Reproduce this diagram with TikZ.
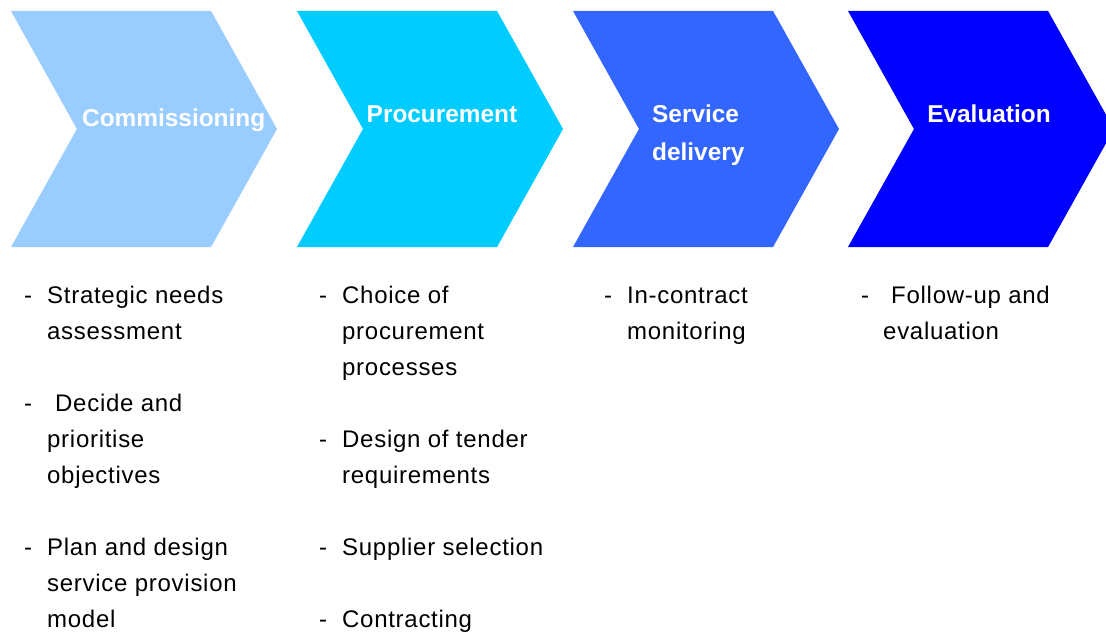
\documentclass[tikz,border=0pt]{standalone}
\usepackage{fontspec}
\setmainfont{Liberation Sans}
\usetikzlibrary{positioning,shapes.symbols}
\definecolor{stageone}{HTML}{99CCFF}
\definecolor{stagetwo}{HTML}{00CCFF}
\definecolor{stagethree}{HTML}{3366FF}
\definecolor{stagefour}{HTML}{0000FF}
\tikzset{
  stage/.style={signal, signal from=west, signal to=east,
    signal pointer angle=121.6, minimum width=266pt, minimum height=236pt,
    inner sep=0pt, outer sep=0pt, draw=none},
  stagetext/.style={text=white, inner sep=0pt, align=left,
    font=\fontsize{24.4}{38}\selectfont\bfseries},
  point/.style={inner sep=0pt, align=left, anchor=base west,
    font=\fontsize{24}{36}\selectfont\addfontfeatures{LetterSpace=3}},
  dashmark/.style={inner sep=0pt, anchor=base west,
    font=\fontsize{24}{36}\selectfont},
}
\begin{document}
\begin{tikzpicture}[x=1pt,y=-1pt]
    \clip (0,0) rectangle (1106,634);

    % the four stages
    \node[stage, fill=stageone] (com) at (144,129) {};
    \node[stage, fill=stagetwo] (pro) at (430,129) {};
    \node[stage, fill=stagethree] (ser) at (706,129) {};
    \node[stage, fill=stagefour] (eva) at (981,129) {};

    \node[stagetext, anchor=base west] (comtxt) at (82,126) {Commissioning};
    \node[stagetext, anchor=base] (protxt) at (442,122) {Procurement};
    \node[stagetext, anchor=base west] (sertxt) at (652,122) {Service};
    \node[stagetext, anchor=base west] (sertxtb) at (652,160) {delivery};
    \node[stagetext, anchor=base] (evatxt) at (989,122) {Evaluation};

    % tasks under each stage (base = last line)
    \node[point] (coma) at (47,339) {Strategic needs\\assessment};
    \node[point] (comb) at (47,483) {\hspace{8pt}Decide and\\prioritise\\objectives};
    \node[point] (comc) at (47,627) {Plan and design\\service provision\\model};

    \node[point] (proa) at (342,375) {Choice of\\procurement\\processes};
    \node[point] (prob) at (342,483) {Design of tender\\requirements};
    \node[point] (proc) at (342,555) {Supplier selection};
    \node[point] (prod) at (342,627) {Contracting};

    \node[point] (sera) at (627,339) {In-contract\\monitoring};

    \node[point] (evaa) at (883,339) {\hspace{8pt}Follow-up and\\evaluation};

    % the dashes in front of the first lines
    \foreach \n/\x/\y in {coma/24/303,comb/24/411,comc/24/555,proa/319/303,%
        prob/319/447,proc/319/555,prod/319/627,sera/604/303,evaa/861/303}
      \node[dashmark] (dash-\n) at (\x,\y) {-};
\end{tikzpicture}
\end{document}
